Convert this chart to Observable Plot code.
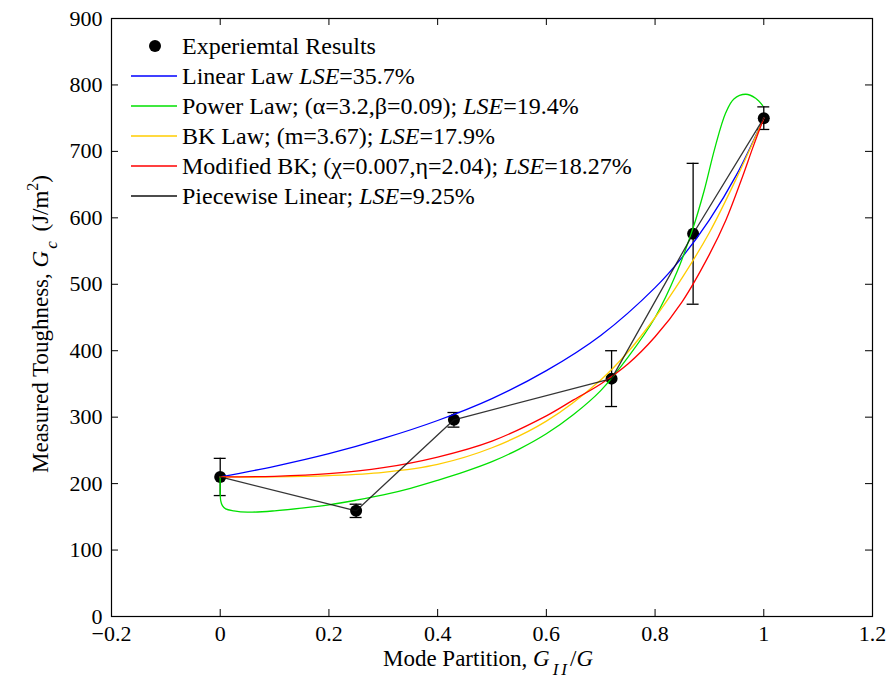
<!DOCTYPE html>
<html><head><meta charset="utf-8">
<script src="https://cdn.jsdelivr.net/npm/d3@7"></script>
<script src="https://cdn.jsdelivr.net/npm/@observablehq/plot@0.6"></script>
<style>body{margin:0;background:#fff}</style>
</head><body><div id="chart"></div>
<script>
// Experimental results (mode partition, toughness, error half-width)
const expX = [0, 0.25, 0.43, 0.72, 0.87, 1];
const expY = [210, 159, 296, 358, 576, 750];
const expErr = [28, 10, 11, 42, 106, 17];

// Linear law curve
const linearX = [0, 0.1, 0.2, 0.3, 0.4, 0.5, 0.6, 0.7, 0.8, 0.85, 0.9, 0.95, 1];
const linearY = [210, 226, 245, 268, 295, 328, 370, 423, 495, 541, 597, 665, 750];

// Power law curve
const powerX = [0, 0.001, 0.004, 0.01, 0.025, 0.05, 0.1, 0.15, 0.2, 0.25, 0.3, 0.35, 0.4, 0.45, 0.5, 0.55, 0.6, 0.65, 0.7, 0.75, 0.8, 0.84, 0.87, 0.89, 0.91, 0.93, 0.945, 0.967, 0.985, 0.998];
const powerY = [210, 174, 167, 162, 159, 157, 159, 163, 168, 175, 183, 193, 205, 218, 233, 252, 275, 304, 340, 390, 450, 518, 585, 640, 705, 758, 779, 786, 780, 769];

// BK law curve
const bkX = [0, 0.1, 0.2, 0.3, 0.4, 0.5, 0.6, 0.7, 0.75, 0.8, 0.85, 0.9, 0.95, 1];
const bkY = [210, 210, 212, 217, 229, 254, 294, 356, 398, 450, 510, 578, 660, 750];

// Modified BK curve
const mbkX = [0, 0.1, 0.2, 0.3, 0.4, 0.5, 0.6, 0.65, 0.7, 0.75, 0.8, 0.85, 0.9, 0.93, 0.96, 0.98, 1];
const mbkY = [210, 211, 215, 224, 240, 264, 302, 326, 350, 380, 421, 474, 545, 596, 660, 706, 750];

// Axis ticks
const xTicks = [-0.2, 0, 0.2, 0.4, 0.6, 0.8, 1, 1.2];
const xTickLabels = ["\u22120.2", "0", "0.2", "0.4", "0.6", "0.8", "1", "1.2"];
const yTicks = [0, 100, 200, 300, 400, 500, 600, 700, 800, 900];
const yTickLabels = ["0", "100", "200", "300", "400", "500", "600", "700", "800", "900"];

// Legend entries
const legendKeys = ["exp", "linear", "power", "bk", "mbk", "piece"];
const legendParts = [
  [["Experiemtal Results", false]],
  [["Linear Law ", false], ["LSE", true], ["=35.7%", false]],
  [["Power Law; (\u03b1=3.2,\u03b2=0.09); ", false], ["LSE", true], ["=19.4%", false]],
  [["BK Law; (m=3.67); ", false], ["LSE", true], ["=17.9%", false]],
  [["Modified BK; (\u03c7=0.007,\u03b7=2.04); ", false], ["LSE", true], ["=18.27%", false]],
  [["Piecewise Linear; ", false], ["LSE", true], ["=9.25%", false]]
];

// styles
const colors = {exp: "#000", linear: "#0000ff", power: "#00e000", bk: "#ffcc00", mbk: "#ff0000", piece: "#111"};
const FONT = "'Liberation Serif', 'Times New Roman', serif";

const zip = (xs, ys) => xs.map((x, i) => ({x, y: ys[i]}));
const exp = expX.map((x, i) => ({x, y: expY[i], lo: expY[i] - expErr[i], hi: expY[i] + expErr[i]}));
const xLab = new Map(xTicks.map((t, i) => [t, xTickLabels[i]]));
const yLab = new Map(yTicks.map((t, i) => [t, yTickLabels[i]]));

const W = 891, H = 686, mL = 111, mR = 19, mT = 18, mB = 70;
const fw = W - mL - mR, fh = H - mT - mB, TL = 7;
const capHalf = 0.011;
const TICKFS = 22;

const plot = Plot.plot({
  width: W, height: H,
  marginLeft: mL, marginRight: mR, marginTop: mT, marginBottom: mB,
  x: {domain: [-0.2, 1.2]},
  y: {domain: [0, 900]},
  style: {fontFamily: FONT, fontSize: TICKFS + "px", color: "black", background: "white", overflow: "visible"},
  marks: [
    Plot.axisX(xTicks, {tickSize: 0, tickPadding: 9, tickFormat: d => xLab.get(d), label: null, fontSize: TICKFS}),
    Plot.axisY(yTicks, {tickSize: 0, tickPadding: 9, tickFormat: d => yLab.get(d), label: null, fontSize: TICKFS}),
    Plot.tickX(xTicks, {x: d => d, insetTop: fh - TL, stroke: "black"}),
    Plot.tickX(xTicks, {x: d => d, insetBottom: fh - TL, stroke: "black"}),
    Plot.tickY(yTicks, {y: d => d, insetRight: fw - TL, stroke: "black"}),
    Plot.tickY(yTicks, {y: d => d, insetLeft: fw - TL, stroke: "black"}),
    Plot.ruleX(exp, {x: "x", y1: "lo", y2: "hi", stroke: "black", strokeWidth: 1.3}),
    Plot.ruleY(exp, {y: "hi", x1: d => d.x - capHalf, x2: d => d.x + capHalf, stroke: "black", strokeWidth: 1.3}),
    Plot.ruleY(exp, {y: "lo", x1: d => d.x - capHalf, x2: d => d.x + capHalf, stroke: "black", strokeWidth: 1.3}),
    Plot.dot(exp, {x: "x", y: "y", r: 6, fill: "black", stroke: null}),
    Plot.line(zip(linearX, linearY), {x: "x", y: "y", stroke: colors.linear, strokeWidth: 1.3, curve: "catmull-rom"}),
    Plot.line(zip(powerX, powerY), {x: "x", y: "y", stroke: colors.power, strokeWidth: 1.3, curve: "catmull-rom"}),
    Plot.line(zip(bkX, bkY), {x: "x", y: "y", stroke: colors.bk, strokeWidth: 1.3, curve: "catmull-rom"}),
    Plot.line(zip(mbkX, mbkY), {x: "x", y: "y", stroke: colors.mbk, strokeWidth: 1.3, curve: "catmull-rom"}),
    Plot.line(exp, {x: "x", y: "y", stroke: colors.piece, strokeWidth: 1.3, strokeOpacity: 0.85}),
    Plot.frame({stroke: "black", strokeWidth: 1.2})
  ]
});
document.getElementById("chart").append(plot);

const svg = d3.select(plot);
// Legend
const lg = svg.append("g").attr("font-family", FONT).attr("font-size", 24)
  .attr("fill", "black").attr("text-anchor", "start");
legendKeys.forEach((k, i) => {
  const cy = 46 + i * 30;
  if (k === "exp") {
    lg.append("circle").attr("cx", 155).attr("cy", cy).attr("r", 6).attr("fill", "black");
  } else {
    lg.append("line").attr("x1", 131).attr("x2", 177).attr("y1", cy).attr("y2", cy)
      .attr("stroke", colors[k]).attr("stroke-width", 1.3);
  }
  const t = lg.append("text").attr("x", 182).attr("y", cy).attr("dy", "0.33em");
  legendParts[i].forEach(([s, it]) => t.append("tspan").text(s).attr("font-style", it ? "italic" : null));
});

// Axis titles
const xt = svg.append("text").attr("font-family", FONT).attr("font-size", 23).attr("text-anchor", "middle")
  .attr("x", 488).attr("y", 666).attr("fill", "black");
xt.append("tspan").text("Mode Partition, ");
xt.append("tspan").text("G").attr("font-style", "italic");
xt.append("tspan").text("II").attr("font-style", "italic").attr("font-size", 17).attr("dx", 3).attr("dy", 9).attr("letter-spacing", 3);
xt.append("tspan").text("/").attr("dy", -9);
xt.append("tspan").text("G").attr("font-style", "italic");

const yt = svg.append("text").attr("font-family", FONT).attr("font-size", 23).attr("text-anchor", "middle")
  .attr("transform", "translate(48,324) rotate(-90)").attr("fill", "black");
yt.append("tspan").text("Measured Toughness, ");
yt.append("tspan").text("G").attr("font-style", "italic");
yt.append("tspan").text("c").attr("font-style", "italic").attr("font-size", 17).attr("dx", 2).attr("dy", 9);
yt.append("tspan").text(" (J/m").attr("dx", 4).attr("dy", -9);
yt.append("tspan").text("2").attr("font-size", 16).attr("dy", -10);
yt.append("tspan").text(")").attr("dy", 10);
</script>
</body></html>
